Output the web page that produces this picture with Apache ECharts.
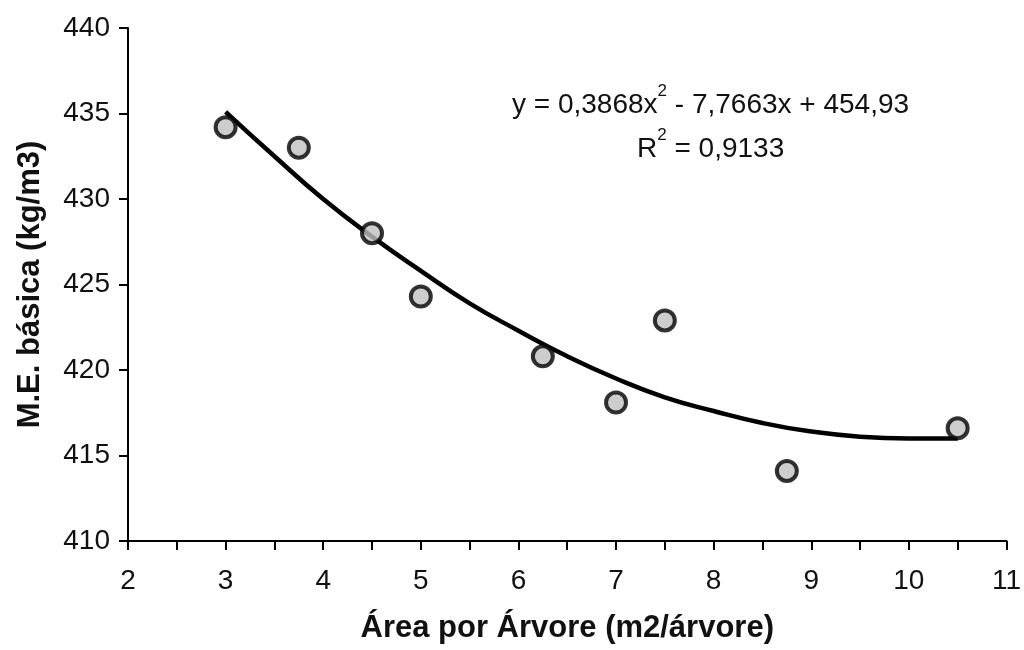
<!DOCTYPE html>
<html>
<head>
<meta charset="utf-8">
<script src="https://cdn.jsdelivr.net/npm/echarts@6/dist/echarts.min.js"></script>
<style>
html,body{margin:0;padding:0;background:#fff;}
#chart{width:1024px;height:650px;}
</style>
</head>
<body>
<div id="chart"></div>
<script>
// pontos observados
var areaX = [3, 3.75, 4.5, 5, 6.25, 7, 7.5, 8.75, 10.5];
var meBasica = [434.2, 433.0, 428.0, 424.3, 420.8, 418.1, 422.9, 414.1, 416.6];

// linha de tendência (polinomial)
var trendX = [3, 3.5, 4, 4.5, 5, 5.5, 6, 6.5, 7, 7.5, 8, 8.5, 9, 9.5, 10, 10.5];
var trendY = [435.1, 432.5, 430.0, 427.8, 425.8, 423.9, 422.3, 420.8, 419.5, 418.4, 417.6, 416.9, 416.4, 416.1, 416.0, 416.0];

var eqLine = 'y = 0,3868x';
var eqRest = ' - 7,7663x + 454,93';
var r2Text = ' = 0,9133';

function pairs(xs, ys) {
    return xs.map(function (x, i) { return [x, ys[i]]; });
}

var font = '"Liberation Sans", Arial, sans-serif';
var richEq = {
    a: {fontFamily: font, fontSize: 28, fill: '#111'},
    s: {fontFamily: font, fontSize: 17, fill: '#111', padding: [0, 0, 28, 0]}
};
var chart = echarts.init(document.getElementById('chart'));
var option = {
    backgroundColor: '#fff',
    animation: false,
    grid: {left: 128, right: 11, top: 28, bottom: 109},
    xAxis: {
        type: 'value',
        min: 2, max: 11, interval: 1,
        name: 'Área por Árvore (m2/árvore)',
        nameLocation: 'middle',
        nameGap: 72,
        nameTextStyle: {fontFamily: font, fontSize: 31, fontWeight: 'bold', color: '#111'},
        axisLine: {lineStyle: {color: '#000', width: 2}},
        axisTick: {show: true, inside: false, length: 9, lineStyle: {color: '#000', width: 2}},
        minorTick: {show: true, splitNumber: 2, length: 9, lineStyle: {color: '#000', width: 2}},
        axisLabel: {fontFamily: font, fontSize: 28, color: '#111', margin: 26},
        splitLine: {show: false}
    },
    yAxis: {
        type: 'value',
        min: 410, max: 440, interval: 5,
        name: 'M.E. básica (kg/m3)',
        nameLocation: 'middle',
        nameGap: 82,
        nameTextStyle: {fontFamily: font, fontSize: 31, fontWeight: 'bold', color: '#111'},
        axisLine: {show: true, lineStyle: {color: '#000', width: 2}},
        axisTick: {show: true, inside: false, length: 9, lineStyle: {color: '#000', width: 2}},
        axisLabel: {fontFamily: font, fontSize: 28, color: '#111', margin: 18},
        splitLine: {show: false}
    },
    graphic: [{
        type: 'text',
        left: 512, top: 83,
        style: {rich: richEq, text: '{a|' + eqLine + '}{s|2}{a|' + eqRest + '}'}
    }, {
        type: 'text',
        left: 637, top: 127,
        style: {rich: richEq, text: '{a|R}{s|2}{a|' + r2Text + '}'}
    }],
    series: [{
        name: 'tendência',
        type: 'line',
        data: pairs(trendX, trendY),
        smooth: true,
        showSymbol: false,
        lineStyle: {color: '#000', width: 4.5},
        z: 2
    }, {
        name: 'M.E. básica',
        type: 'scatter',
        data: pairs(areaX, meBasica),
        symbol: 'circle',
        symbolSize: 20,
        itemStyle: {color: '#c0c0c0', borderColor: '#000', borderWidth: 4},
        z: 3
    }]
};
chart.setOption(option);
</script>
</body>
</html>
